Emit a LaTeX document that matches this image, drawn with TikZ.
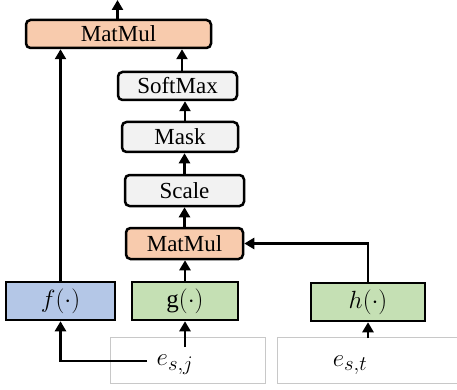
\documentclass[tikz,border=0pt]{standalone}
\usepackage{fontspec}
\setmainfont{Liberation Serif}
\usetikzlibrary{arrows.meta}
\definecolor{mmfill}{HTML}{F8CBAD}
\definecolor{opfill}{HTML}{F2F2F2}
\definecolor{ffill}{HTML}{B4C7E7}
\definecolor{ghfill}{HTML}{C5E0B4}
\definecolor{inborder}{HTML}{C8C8C8}
\tikzset{
  op/.style={draw=black, line width=2.5pt, rounded corners=4.5pt, inner sep=0pt,
    font=\fontsize{23}{27}\selectfont},
  fn/.style={draw=black, line width=2.5pt, inner sep=0pt,
    font=\fontsize{25}{29}\selectfont},
  inbox/.style={draw=inborder, line width=0.8pt},
  arr/.style={line width=2.5pt, -{Triangle[width=11pt,length=10pt]}},
  emb/.style={font=\fontsize{30}{34}\selectfont, inner sep=1pt},
}
\begin{document}
\begin{tikzpicture}[x=1pt,y=-1pt]
\useasboundingbox (0,0) rectangle (457,390);

% attention stack
\node[op, fill=mmfill, minimum width=185, minimum height=28] (mm1) at (118.5,34) {MatMul};
\node[op, fill=opfill, minimum width=119, minimum height=28] (sm) at (177.5,86) {SoftMax};
\node[op, fill=opfill, minimum width=116, minimum height=30] (mask) at (180,137) {Mask};
\node[op, fill=opfill, minimum width=119, minimum height=31] (scale) at (184.5,190.5) {Scale};
\node[op, fill=mmfill, minimum width=117, minimum height=31] (mm2) at (184.5,243.5) {MatMul};

% projection functions
\node[fn, fill=ffill, minimum width=109, minimum height=38] (f) at (60.5,301) {$f(\cdot)$};
\node[fn, fill=ghfill, minimum width=106, minimum height=38] (g) at (185,301) {$\mathrm{g}(\cdot)$};
\node[fn, fill=ghfill, minimum width=114, minimum height=38] (h) at (368,302) {$h(\cdot)$};

% inputs
\node[inbox, minimum width=155, minimum height=46, inner sep=0pt] (in1) at (187.5,360) {};
\node[inbox, minimum width=180, minimum height=46, inner sep=0pt] (in2) at (367,360) {};
\node[emb] (esj) at (175,365) {$e_{s,j}$};
\node[emb] (est) at (350,365) {$e_{s,t}$};

\coordinate (out) at (117.5,0);
\coordinate (jleft) at (147,361);
\coordinate (jup) at (185,347);
\coordinate (tup) at (368,338);

% connectors
\draw[arr] (mm1.north -| out) -- (out);
\draw[arr] ([xshift=4.5pt]sm.north) -- ([xshift=4.5pt]sm.north |- mm1.south);
\draw[arr] ([xshift=5pt]mask.north) -- ([xshift=5pt]mask.north |- sm.south);
\draw[arr] (scale.north) -- (scale.north |- mask.south);
\draw[arr] (mm2.north) -- (mm2.north |- scale.south);
\draw[arr] (g.north) -- (g.north |- mm2.south);
\draw[arr] (f.north) -- (f.north |- mm1.south);
\draw[arr] (h.north) |- (mm2.east);
\draw[arr] (jleft) -| (f.south);
\draw[arr] (jup) -- (g.south);
\draw[arr] (tup) -- (h.south);
\end{tikzpicture}
\end{document}
